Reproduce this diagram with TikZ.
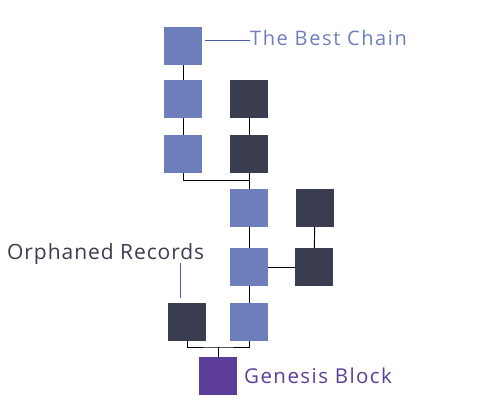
\documentclass[tikz,border=0pt]{standalone}
\usepackage{fontspec}
\setmainfont{Open Sans}
\definecolor{bestblue}{HTML}{6E7EBB}
\definecolor{orphan}{HTML}{3A3C50}
\definecolor{genesis}{HTML}{5C3E98}
\definecolor{pointer}{HTML}{4A5AAA}
\tikzset{
  blk/.style={minimum size=38pt, inner sep=0pt, outer sep=0pt},
  bestblk/.style={blk, fill=bestblue},
  orphblk/.style={blk, fill=orphan},
  genblk/.style={blk, fill=genesis},
  link/.style={draw=black, line width=0.9pt},
  ptr/.style={draw=pointer, line width=0.9pt},
  lbl/.style={inner sep=0pt, anchor=base west}
}
\begin{document}
\begin{tikzpicture}[x=1pt,y=-1pt]
\useasboundingbox (0,0) rectangle (479,409);
\node[bestblk] (b1) at (183,46) {};
\node[bestblk] (b2) at (183,99) {};
\node[bestblk] (b3) at (183,154) {};
\node[orphblk] (d2) at (249,99) {};
\node[orphblk] (d3) at (249,154) {};
\node[bestblk] (b4) at (249,208) {};
\node[orphblk] (d4) at (315,208) {};
\node[bestblk] (b5) at (249,267) {};
\node[orphblk] (d5) at (314,267) {};
\node[orphblk] (o6) at (187,322) {};
\node[bestblk] (b6) at (249,322) {};
\node[genblk] (g) at (218,376) {};
\coordinate (j1) at (249,180);
\coordinate (j2) at (218,347);
\draw[link] (b1) -- (b2);
\draw[link] (b2) -- (b3);
\draw[link] (d2) -- (d3);
\draw[link] (d3) -- (b4);
\draw[link] (b3.south) |- (j1);
\draw[link] (b4) -- (b5);
\draw[link] (b5) -- (d5);
\draw[link] (d4) -- (d5);
\draw[link] (b5) -- (b6);
\draw[link] (o6.south) |- (j2) -| (b6.south);
\draw[link] (g.north) -- (j2);
\node[lbl, text=bestblue, font=\fontsize{20}{23}\selectfont\addfontfeature{LetterSpace=8}] (tbest) at (250,46) {The Best Chain};
\node[lbl, text=orphan, font=\fontsize{21}{24}\selectfont\addfontfeature{LetterSpace=4.5}] (torph) at (7,259) {Orphaned Records};
\node[lbl, text=genesis, font=\fontsize{20.5}{23}\selectfont\addfontfeature{LetterSpace=7}] (tgen) at (244,383) {Genesis Block};
\coordinate (p1) at (205,40);
\draw[ptr] (p1) -- (tbest.west |- p1);
\coordinate (p2) at (180,263);
\coordinate (p3) at (180,298);
\draw[ptr] (p2) -- (p3);
\end{tikzpicture}
\end{document}
